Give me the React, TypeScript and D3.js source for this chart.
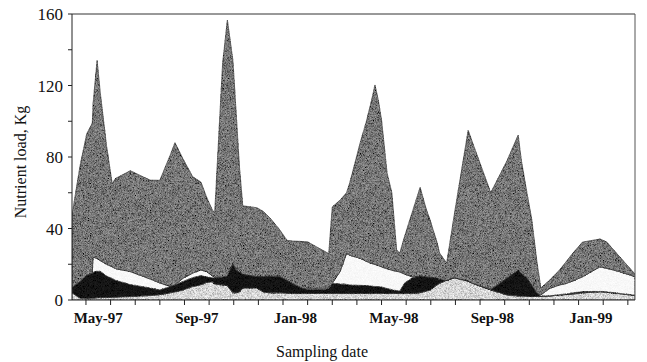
import React from "react";
import * as d3 from "d3";

// Sampling dates (ISO) and nutrient loads (kg) for each stacked component
const sampleDates = [
  "1997-04-14", "1997-04-24", "1997-05-02", "1997-05-09", "1997-05-10", "1997-05-15", "1997-05-19", "1997-05-27",
  "1997-06-03", "1997-06-07", "1997-06-25", "1997-07-20", "1997-08-01", "1997-08-14", "1997-08-20", "1997-08-30",
  "1997-09-11", "1997-09-21", "1997-09-28", "1997-10-05", "1997-10-08", "1997-10-18", "1997-10-24", "1997-10-31",
  "1997-11-04", "1997-11-08", "1997-11-12", "1997-11-17", "1997-11-29", "1997-12-07", "1997-12-16", "1997-12-28",
  "1998-01-06", "1998-01-13", "1998-01-26", "1998-02-01", "1998-02-21", "1998-02-25", "1998-03-01", "1998-03-11",
  "1998-03-19", "1998-03-23", "1998-04-05", "1998-04-13", "1998-04-19", "1998-04-23", "1998-04-27", "1998-05-01",
  "1998-05-08", "1998-05-14", "1998-05-20", "1998-05-24", "1998-05-30", "1998-06-09", "1998-06-18", "1998-06-26",
  "1998-06-30", "1998-07-09", "1998-07-12", "1998-07-21", "1998-07-31", "1998-08-17", "1998-08-23", "1998-09-14",
  "1998-10-04", "1998-10-18", "1998-10-22", "1998-10-29", "1998-11-04", "1998-11-10", "1998-11-15", "1998-11-26",
  "1998-12-08", "1998-12-17", "1998-12-25", "1999-01-06", "1999-01-28", "1999-02-05", "1999-02-20", "1999-03-10",
];

// bottom band (light stipple)
const lightLoad = [
  4, 1, 1, 1, 1, 1.2, 1.3, 1.5, 1.5, 1.6, 2, 2.5, 3, 4, 4.5, 5.6,
  7.5, 8.5, 9.8, 10.2, 9, 8.5, 8, 4, 4, 4.5, 6.7, 6.7, 6.7, 4.5, 4, 4,
  3.8, 3.7, 3.7, 3.7, 3.7, 3.7, 3.7, 3.7, 3.7, 3.7, 3.7, 3.7, 3.7, 3.7, 3.7, 3.7,
  3.7, 3.7, 3.7, 3.7, 3.7, 3.8, 4, 5, 5.6, 8.5, 9.3, 11, 12.5, 10.6, 9.3, 5.6,
  2.8, 2.2, 2.2, 2, 2, 2, 2, 2.2, 2.8, 3, 3.3, 4, 4.5, 4.3, 3.5, 2.5,
];

// second band (solid black)
const blackLoad = [
  3, 9.5, 13, 14, 14.5, 15, 14.7, 11.9, 10.5, 9.4, 6.7, 4.2, 2.6, 3.5, 3.9, 4.8,
  5, 5.2, 3.2, 2.2, 3.2, 4.4, 5.5, 16.5, 12.8, 11, 7.8, 7.3, 6.5, 8.7, 9.2, 9.2,
  7.4, 5.6, 2.8, 2.3, 2.3, 2.8, 5.6, 5.3, 5, 4.7, 4.5, 4.3, 4.1, 3.9, 3.8, 3.6,
  2.8, 2.1, 1.5, 1.3, 5.8, 8.7, 9.6, 8, 7.2, 3.6, 2.2, 0, 0, 0, 0, 0.2,
  9.5, 14.6, 12.8, 10.3, 6.4, 1.9, 0.2, 0.2, 0.2, 0.4, 0.7, 0.7, 0.3, 0.3, 0.2, 0.2,
];

// third band (white stipple)
const whiteLoad = [
  0, 0, 0, 0, 8.5, 7, 6, 6.6, 6.5, 6.5, 7.2, 5, 3.9, 0.1, 0, 1.7,
  2.5, 3.1, 2.9, 1.1, 0.4, 0, 0, 0, 0, 0, 0, 0, 0, 0, 0, 0,
  0, 0, 0, 0.6, 0.6, 0.3, 0, 7, 17.3, 16.6, 15.1, 13.5, 12.6, 12.3, 11.8, 11.2,
  10.9, 10.9, 10.8, 10.7, 5, 0.3, 0, 0, 0, 0, 0, 0, 0, 0, 0, 0,
  0, 0, 0, 0, 0, 0, 0.6, 4.1, 5.4, 5.9, 6.7, 8.3, 13.8, 13.1, 12.1, 10.3,
];

// top band (dark grey stipple)
const darkLoad = [
  40.6, 65, 79, 84, 86, 110.8, 94, 66, 46.5, 50.5, 56.4, 55.3, 57.5, 73.4, 79.6, 66.9,
  54, 49.2, 41.6, 37, 36.1, 119.6, 143.1, 113.5, 87.2, 58.9, 38.1, 38.4, 38.4, 36.4, 32.5, 26,
  22.2, 23.7, 26.2, 25.9, 20.4, 19.2, 42.7, 40, 34, 40.5, 64.7, 79.2, 91.6, 100.4, 92.7, 82.2,
  53.6, 43.3, 12, 10.6, 21, 37.2, 49.4, 37, 32.2, 19.9, 14.8, 9.7, 36.5, 84.4, 78.2, 54.2,
  65.7, 75.5, 63, 47.7, 36.6, 18.5, 3.9, 4.7, 8.4, 12.5, 15.6, 19.4, 15.5, 14.7, 8.2, 1.5,
];

const yTicks = [0, 20, 40, 60, 80, 100, 120, 140, 160];
const yTickLabels = [0, 40, 80, 120, 160];
const xTickLabels = ["May-97", "Sep-97", "Jan-98", "May-98", "Sep-98", "Jan-99"];
const xLabelMonths = ["1997-05", "1997-09", "1998-01", "1998-05", "1998-09", "1999-01"];

const W = 647;
const H = 362;
const M = { left: 72, right: 635, top: 14, bottom: 300 };
const FONT = "'Liberation Serif', 'Times New Roman', serif";

// months since May 1997, with the day as a fraction of its month
function monthPos(iso: string): number {
  const [y, m, d] = iso.split("-").map(Number);
  const dim = new Date(Date.UTC(y, m, 0)).getUTCDate();
  return (y - 1997) * 12 + (m - 5) + (d ? (d - 1) / dim : 0);
}

type Row = { t: number; light: number; black: number; white: number; dark: number };

const rows: Row[] = sampleDates.map((s, i) => ({
  t: monthPos(s),
  light: lightLoad[i],
  black: blackLoad[i],
  white: whiteLoad[i],
  dark: darkLoad[i],
}));

const keys = ["light", "black", "white", "dark"] as const;
const fills: Record<string, string> = {
  light: "#d6d6d6",
  black: "#141414",
  white: "#f8f8f8",
  dark: "#767676",
};

export default function App() {
  const x = d3
    .scaleLinear()
    .domain([rows[0].t, rows[rows.length - 1].t])
    .range([M.left, M.right]);
  const y = d3.scaleLinear().domain([0, 160]).range([M.bottom, M.top]);

  const series = d3.stack<Row>().keys(keys as unknown as string[])(rows);
  const area = d3
    .area<d3.SeriesPoint<Row>>()
    .x((d) => x(d.data.t))
    .y0((d) => y(d[0]))
    .y1((d) => y(d[1]));

  const monthTicks = d3.range(Math.ceil(rows[0].t), Math.floor(rows[rows.length - 1].t) + 1);

  return (
    <svg
      width={W}
      height={H}
      style={{ position: "absolute", left: 0, top: 0, background: "#fff" }}
    >
      <defs>
        {/* fine stipple texture for the filled bands */}
        <filter id="grain" x="0" y="0" width="100%" height="100%">
          <feTurbulence type="fractalNoise" baseFrequency="2.6" numOctaves="1" seed="4" result="t" />
          <feColorMatrix
            in="t"
            type="matrix"
            values="1 0 0 0 0  1 0 0 0 0  1 0 0 0 0  0 0 0 0 1"
            result="g"
          />
          <feComponentTransfer in="g" result="gc">
            <feFuncR type="linear" slope="1.8" intercept="-0.4" />
            <feFuncG type="linear" slope="1.8" intercept="-0.4" />
            <feFuncB type="linear" slope="1.8" intercept="-0.4" />
          </feComponentTransfer>
          <feComposite in="gc" in2="SourceGraphic" operator="in" result="gm" />
          <feBlend in="gm" in2="SourceGraphic" mode="overlay" />
        </filter>
      </defs>

      <g filter="url(#grain)">
        {series.map((s) => (
          <path
            key={s.key}
            d={area(s) || ""}
            fill={fills[s.key]}
            stroke="#2a2a2a"
            strokeWidth={0.7}
            strokeLinejoin="round"
          />
        ))}
      </g>

      {/* plot frame */}
      <line x1={M.left} x2={M.right} y1={M.top} y2={M.top} stroke="#333" strokeWidth={1} />
      <line x1={M.right} x2={M.right} y1={M.top} y2={M.bottom} stroke="#555" strokeWidth={1} />
      <line x1={M.left} x2={M.left} y1={M.top} y2={M.bottom} stroke="#222" strokeWidth={1} />
      <line x1={M.left} x2={M.right} y1={M.bottom} y2={M.bottom} stroke="#222" strokeWidth={1} />

      {/* y axis */}
      {yTicks.map((v) => (
        <line key={v} x1={M.left - 4} x2={M.left} y1={y(v)} y2={y(v)} stroke="#222" strokeWidth={1} />
      ))}
      {yTickLabels.map((v) => (
        <text
          key={v}
          x={63}
          y={y(v) + 6}
          textAnchor="end"
          fontFamily={FONT}
          fontSize={17}
          fill="#111"
        >
          {v}
        </text>
      ))}
      <text
        transform={`translate(26, 162) rotate(-90)`}
        textAnchor="middle"
        fontFamily={FONT}
        fontSize={16}
        fill="#111"
      >
        Nutrient load, Kg
      </text>

      {/* x axis */}
      {monthTicks.map((m) => (
        <line key={m} x1={x(m)} x2={x(m)} y1={M.bottom} y2={M.bottom + 5} stroke="#222" strokeWidth={1} />
      ))}
      {xTickLabels.map((lab, i) => (
        <text
          key={lab}
          x={x(monthPos(xLabelMonths[i] + "-01") + 0.5)}
          y={323}
          textAnchor="middle"
          fontFamily={FONT}
          fontSize={15}
          fontWeight="bold"
          fill="#111"
        >
          {lab}
        </text>
      ))}
      <text x={322} y={357} textAnchor="middle" fontFamily={FONT} fontSize={16} fill="#111">
        Sampling date
      </text>
    </svg>
  );
}
